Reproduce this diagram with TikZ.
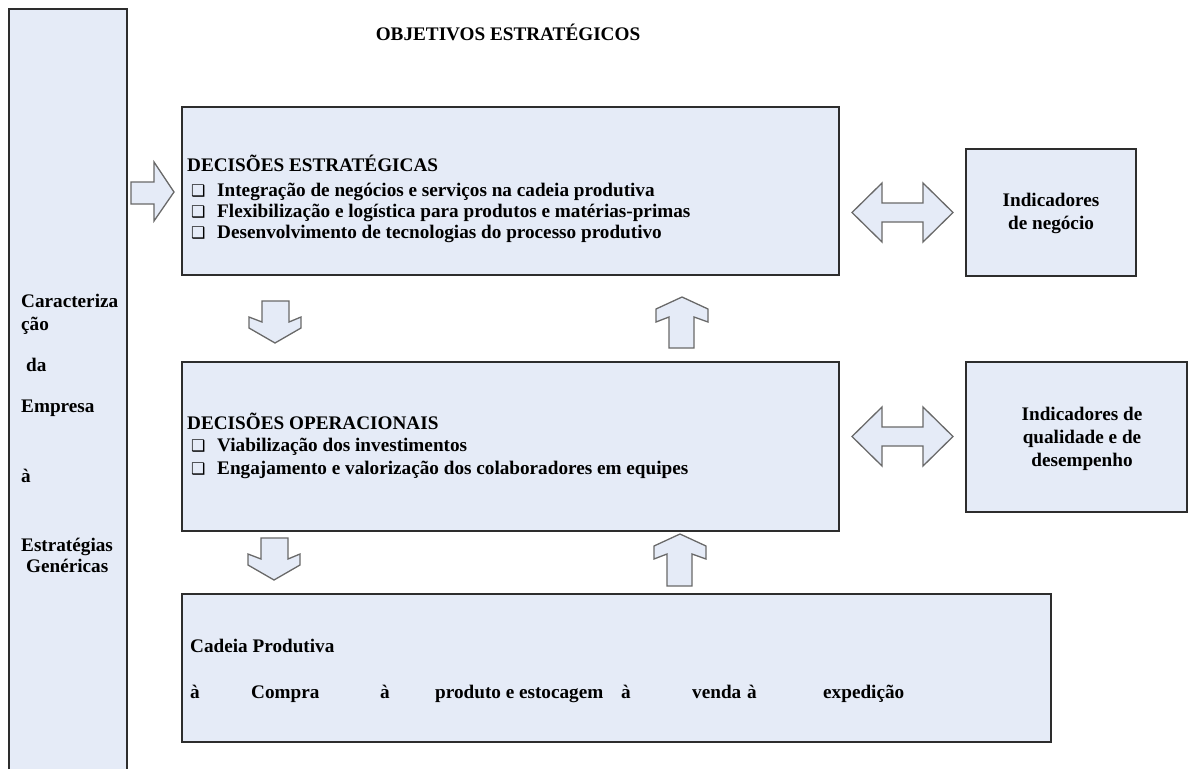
\documentclass[tikz,border=0pt]{standalone}
\usepackage{fontspec}
\setmainfont{Liberation Serif}
\newfontfamily\dejavu{DejaVu Sans}
\definecolor{boxfill}{RGB}{229,235,247}
\definecolor{boxline}{RGB}{45,45,45}
\definecolor{arrline}{RGB}{105,105,105}
\begin{document}
\begin{tikzpicture}[x=1pt,y=-1pt,
  panel/.style={fill=boxfill,draw=boxline,line width=1.3pt},
  blockarrow/.style={fill=boxfill,draw=arrline,line width=1.3pt,line join=miter},
  txt/.style={inner sep=0pt,anchor=base west,font=\fontsize{19.2}{22}\selectfont\bfseries},
  ctxt/.style={txt,anchor=base},
  chk/.style={inner sep=0pt,anchor=base west,font=\fontsize{16}{16}\selectfont\dejavu}]
\useasboundingbox (0,0) rectangle (1189,769);
% left column
\fill[boxfill] (9,9) rectangle (127,769);
\draw[boxline,line width=1.3pt] (9,769) -- (9,9) -- (127,9) -- (127,769);
\node[txt] (l1) at (21,307) {Caracteriza};
\node[txt] (l2) at (21,330) {ção};
\node[txt] (l3) at (26,371) {da};
\node[txt] (l4) at (21,412) {Empresa};
\node[txt] (l5) at (21,482) {à};
\node[txt] (l6) at (21,551) {Estratégias};
\node[txt] (l7) at (26,572) {Genéricas};
% title
\node[ctxt] (title) at (508,40) {OBJETIVOS ESTRATÉGICOS};
% boxes
\draw[panel] (182,107) rectangle (839,275);
\draw[panel] (182,362) rectangle (839,531);
\draw[panel] (182,594) rectangle (1051,742);
\draw[panel] (966,149) rectangle (1136,276);
\draw[panel] (966,362) rectangle (1187,512);
% DE text
\node[txt] (de) at (187,171) {DECISÕES ESTRATÉGICAS};
\node[chk] (c1) at (191,196) {❑};
\node[txt] (d1) at (217,196) {Integração de negócios e serviços na cadeia produtiva};
\node[chk] (c2) at (191,217) {❑};
\node[txt] (d2) at (217,217) {Flexibilização e logística para produtos e matérias-primas};
\node[chk] (c3) at (191,238) {❑};
\node[txt] (d3) at (217,238) {Desenvolvimento de tecnologias do processo produtivo};
% DO text
\node[txt] (do) at (187,429) {DECISÕES OPERACIONAIS};
\node[chk] (c4) at (191,451) {❑};
\node[txt] (o1) at (217,451) {Viabilização dos investimentos};
\node[chk] (c5) at (191,474) {❑};
\node[txt] (o2) at (217,474) {Engajamento e valorização dos colaboradores em equipes};
% CP text
\node[txt] (cp) at (190,652) {Cadeia Produtiva};
\node[txt] (r1) at (190,698) {à};
\node[txt] (r2) at (251,698) {Compra};
\node[txt] (r3) at (380,698) {à};
\node[txt] (r4) at (435,698) {produto e estocagem};
\node[txt] (r5) at (621,698) {à};
\node[txt] (r6) at (692,698) {venda};
\node[txt] (r7) at (747,698) {à};
\node[txt] (r8) at (823,698) {expedição};
% indicators
\node[ctxt] (n1) at (1051,206) {Indicadores};
\node[ctxt] (n2) at (1051,229) {de negócio};
\node[ctxt] (q1) at (1082,420) {Indicadores de};
\node[ctxt] (q2) at (1082,443) {qualidade e de};
\node[ctxt] (q3) at (1082,466) {desempenho};
% block arrows
\draw[blockarrow] (131,182) -- (154,182) -- (154,162) -- (174,192) -- (154,221) -- (154,204) -- (131,204) -- cycle;
\draw[blockarrow] (262,301) -- (289,301) -- (289,322) -- (301,317) -- (301,328) -- (275,343) -- (249,328) -- (249,317) -- (262,322) -- cycle;
\draw[blockarrow] (682,297) -- (708,309) -- (708,322) -- (694,317) -- (694,348) -- (669,348) -- (669,317) -- (656,322) -- (656,309) -- cycle;
\draw[blockarrow] (261,538) -- (288,538) -- (288,559) -- (300,554) -- (300,565) -- (274,580) -- (248,565) -- (248,554) -- (261,559) -- cycle;
\draw[blockarrow] (680,534) -- (706,546) -- (706,559) -- (692,554) -- (692,586) -- (667,586) -- (667,554) -- (654,559) -- (654,546) -- cycle;
\draw[blockarrow] (852,212.5) -- (882,183) -- (882,203) -- (923,203) -- (923,183) -- (953,212.5) -- (923,242) -- (923,222) -- (882,222) -- (882,242) -- cycle;
\draw[blockarrow] (852,436.5) -- (882,407) -- (882,427) -- (923,427) -- (923,407) -- (953,436.5) -- (923,466) -- (923,446) -- (882,446) -- (882,466) -- cycle;
\end{tikzpicture}
\end{document}
